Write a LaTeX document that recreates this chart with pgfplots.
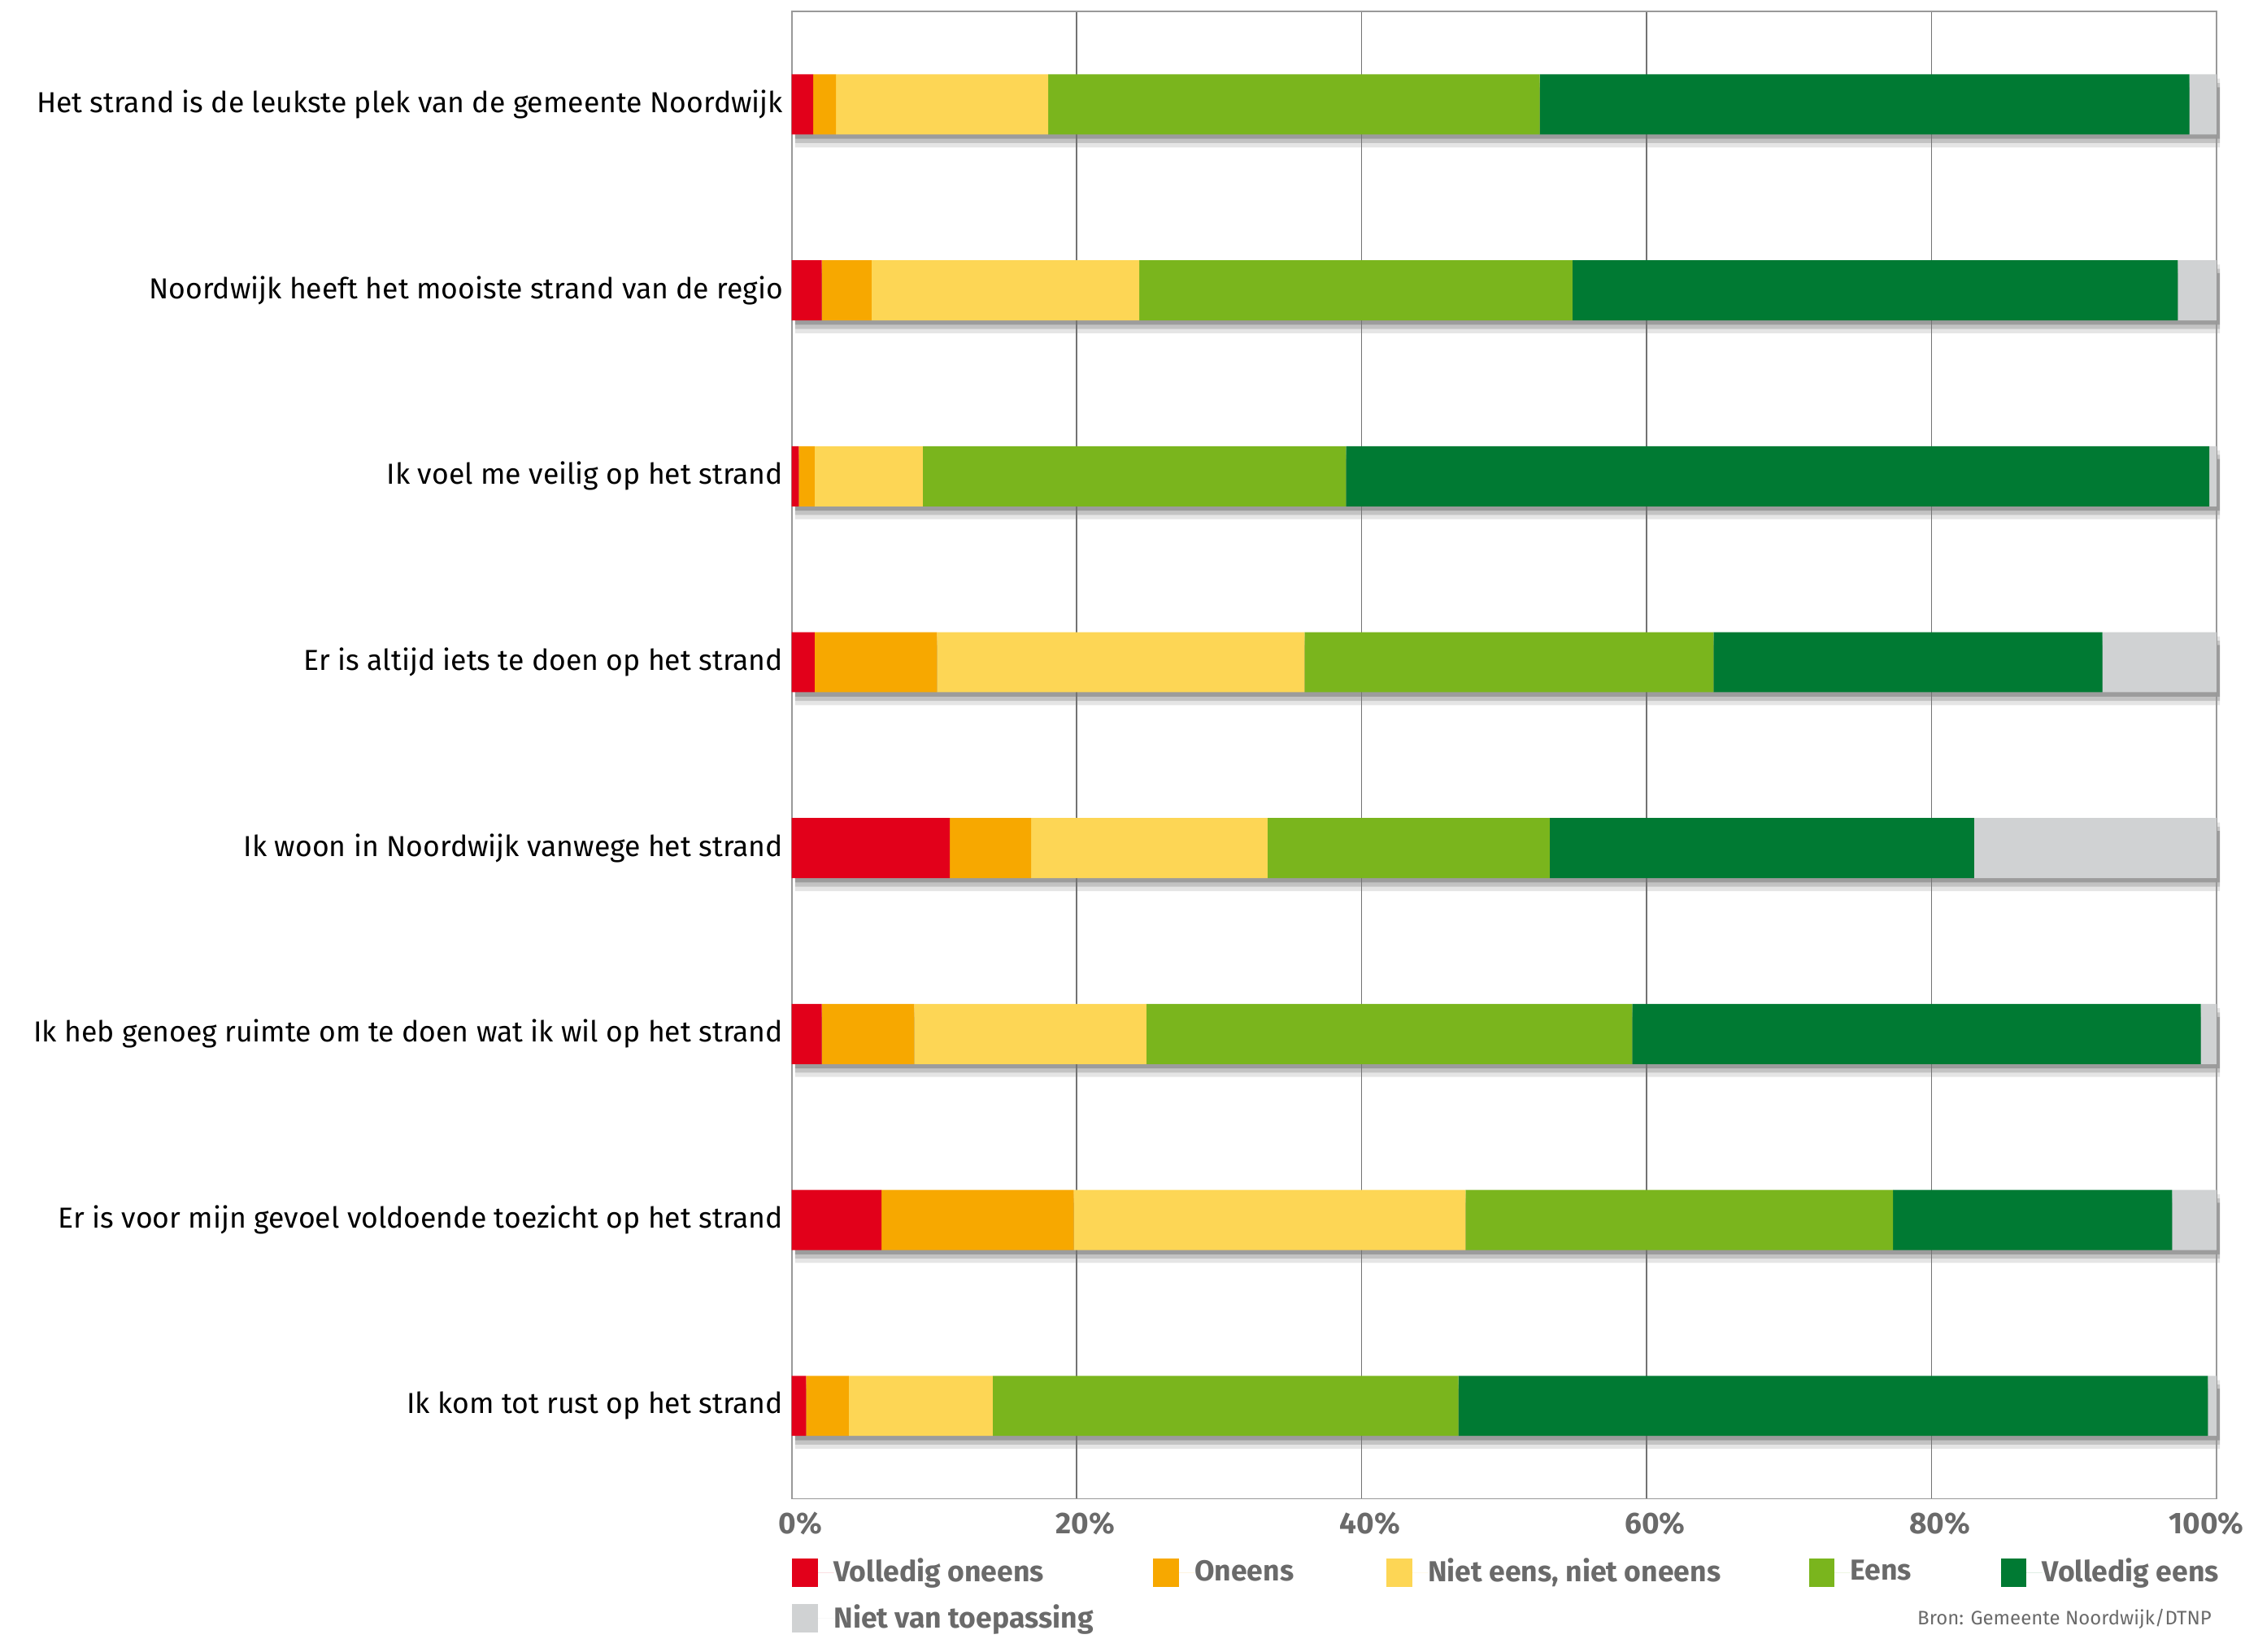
\documentclass[border=0pt]{standalone}
\usepackage{pgfplots}
\pgfplotsset{compat=1.18}
\usepackage{pgfplotstable}
\usepackage{fontspec}
\setmainfont{Fira Sans}
\definecolor{cVO}{HTML}{E2001A}
\definecolor{cO}{HTML}{F7A800}
\definecolor{cN}{HTML}{FDD655}
\definecolor{cE}{HTML}{7AB51D}
\definecolor{cVE}{HTML}{007A33}
\definecolor{cNVT}{HTML}{D0D2D3}
\definecolor{txtgrey}{HTML}{6A6A6A}
\pgfplotstableread{
y vo o n e ve nvt tot
0 1.5 1.6 14.9 34.5 45.6 1.9 100
1 2.1 3.5 18.8 30.4 42.5 2.7 100
2 0.5 1.1 7.6 29.7 60.6 0.5 100
3 1.6 8.6 25.8 28.7 27.3 8.0 100
4 11.1 5.7 16.6 19.8 29.8 17.0 100
5 2.1 6.5 16.3 34.1 39.9 1.1 100
6 6.3 13.5 27.5 30.0 19.6 3.1 100
7 1.0 3.0 10.1 32.7 52.6 0.6 100
}\data
\begin{document}
\begin{tikzpicture}
\useasboundingbox (-276.5pt,-53.5pt) rectangle (507.5pt,523.5pt);
% shadow layer
\begin{axis}[
  at={(1.2pt,-3pt)}, anchor=south west,
  scale only axis, width=497.5pt, height=519.5pt,
  xbar, bar shift=0pt,
  xmin=0, xmax=100, ymin=-0.5, ymax=7.5, y dir=reverse,
  clip=false, hide axis,
]
\addplot[draw=none, fill=black, fill opacity=0.10, bar width=24pt] table[x=tot, y=y] {\data};
\addplot[draw=none, fill=black, fill opacity=0.15, bar width=21pt] table[x=tot, y=y] {\data};
\addplot[draw=none, fill=black, fill opacity=0.20, bar width=18pt] table[x=tot, y=y] {\data};
\end{axis}
\begin{axis}[
  at={(0,0)}, anchor=south west,
  scale only axis, width=497.5pt, height=519.5pt,
  xbar stacked, bar width=21pt,
  xmin=0, xmax=100, ymin=-0.5, ymax=7.5, y dir=reverse,
  clip=false,
  axis line style={draw=gray!80, line width=0.5pt},
  xtick={0,20,40,60,80,100},
  xticklabels={0\%,20\%,40\%,60\%,80\%,\hspace*{-13pt}100\%},
  xmajorgrids, grid style={gray!90!black, line width=0.5pt},
  major tick length=0pt,
  xticklabel style={font=\bfseries\fontsize{10.5}{12}\selectfont, text=txtgrey, yshift=-1pt, xshift=3pt},
  ytick={0,...,7},
  yticklabels={Het strand is de leukste plek van de gemeente Noordwijk,
    Noordwijk heeft het mooiste strand van de regio,
    Ik voel me veilig op het strand,
    Er is altijd iets te doen op het strand,
    Ik woon in Noordwijk vanwege het strand,
    Ik heb genoeg ruimte om te doen wat ik wil op het strand,
    Er is voor mijn gevoel voldoende toezicht op het strand,
    Ik kom tot rust op het strand},
  yticklabel style={font=\fontsize{10.1}{12}\selectfont, text=black, xshift=0.5pt},
  legend columns=5,
  legend cell align=left,
  legend style={at={(0,0)}, anchor=north west, yshift=-20.5pt, draw=none, fill=none,
    font=\bfseries\fontsize{10.1}{12}\selectfont, text=txtgrey,
    nodes={inner sep=0pt},
    column sep=0pt, row sep=6pt, inner sep=0pt},
  legend image code/.code={\fill[#1, draw=none] (0pt,-5pt) rectangle (9pt,5pt); \path (0pt,0pt) -- (14.5pt,0pt);},
  every axis plot/.append style={draw=none},
]
\addplot[fill=cVO] table[x=vo, y=y] {\data};
\addplot[fill=cO] table[x=o, y=y] {\data};
\addplot[fill=cN] table[x=n, y=y] {\data};
\addplot[fill=cE] table[x=e, y=y] {\data};
\addplot[fill=cVE] table[x=ve, y=y] {\data};
\addplot[fill=cNVT] table[x=nvt, y=y] {\data};
\legend{\makebox[111.5pt][l]{Volledig oneens}, \makebox[67pt][l]{Oneens}, \makebox[133pt][l]{Niet eens, niet oneens}, \makebox[52.5pt][l]{Eens}, Volledig eens, \makebox[111.5pt][l]{Niet van toepassing}}
\node[anchor=east, inner sep=0pt, font=\fontsize{6.8}{8}\selectfont, text=txtgrey] at ([xshift=-1.5pt, yshift=-42pt]axis description cs:1,0) {Bron: Gemeente Noordwijk/DTNP};
\end{axis}
\end{tikzpicture}
\end{document}
